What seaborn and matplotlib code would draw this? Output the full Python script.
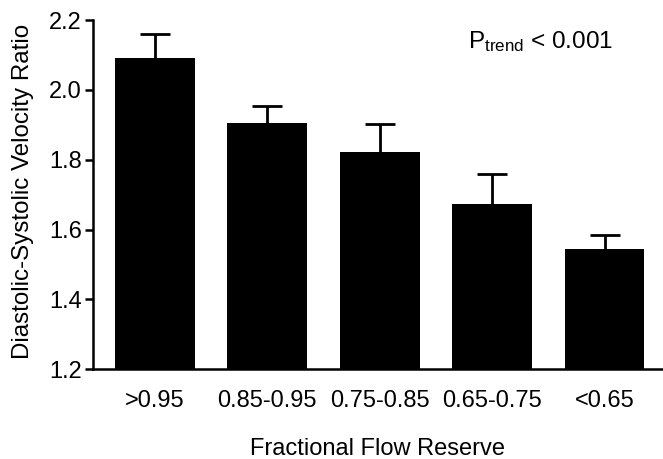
import matplotlib
matplotlib.use("Agg")
import matplotlib.pyplot as plt
import seaborn as sns
import pandas as pd

categories = [">0.95", "0.85-0.95", "0.75-0.85", "0.65-0.75", "<0.65"]
means = [2.092, 1.906, 1.821, 1.674, 1.543]
upper = [2.160, 1.954, 1.901, 1.759, 1.584]
errors = [u - m for u, m in zip(upper, means)]

sns.set_theme(style="white")
plt.rcParams['font.family'] = ['Liberation Sans', 'DejaVu Sans']
plt.rcParams['mathtext.fontset'] = 'custom'
plt.rcParams['mathtext.rm'] = 'Liberation Sans'
plt.rcParams['mathtext.it'] = 'Liberation Sans'
for k in ['text.color', 'axes.labelcolor', 'xtick.color', 'ytick.color']:
    plt.rcParams[k] = 'black'

df = pd.DataFrame({"cat": categories, "val": means})

fig = plt.figure(figsize=(6.63, 4.59), dpi=100)
ax = fig.add_axes([0.140, 0.196, 0.86, 0.760])

sns.barplot(data=df, x="cat", y="val", color="black", saturation=1,
            width=0.71, edgecolor="black", linewidth=0, ax=ax, errorbar=None)
eb = ax.errorbar(range(len(categories)), means, yerr=[[0]*len(errors), errors],
                 fmt="none", ecolor="black", elinewidth=2, capsize=10.8, capthick=2)
eb[1][0].set_visible(False)

ax.set_ylim(1.2, 2.2)
ax.set_xlim(-0.55, 4.52)
ax.set_yticks([1.2, 1.4, 1.6, 1.8, 2.0, 2.2])
ax.set_yticklabels(["1.2", "1.4", "1.6", "1.8", "2.0", "2.2"])

for s in ["top", "right"]:
    ax.spines[s].set_visible(False)
for s in ["left", "bottom"]:
    ax.spines[s].set_linewidth(1.8)
    ax.spines[s].set_color("black")

ax.tick_params(axis="y", which="both", left=True, length=6, width=1.8,
               labelsize=17, pad=2, color="black", labelcolor="black")
ax.tick_params(axis="x", bottom=False, labelsize=17, pad=9, labelcolor="black")

ax.set_xlabel("Fractional Flow Reserve", fontsize=17, labelpad=19, color="black")
ax.set_ylabel("Diastolic-Systolic Velocity Ratio", fontsize=17.4, color="black")
ax.yaxis.set_label_coords(-0.103, 0.51)

ax.text(0.785, 0.94, r"P$_{\mathrm{trend}}$ < 0.001", transform=ax.transAxes,
        ha="center", va="center", fontsize=17.5, color="black")

fig.savefig("out.png", dpi=100)
